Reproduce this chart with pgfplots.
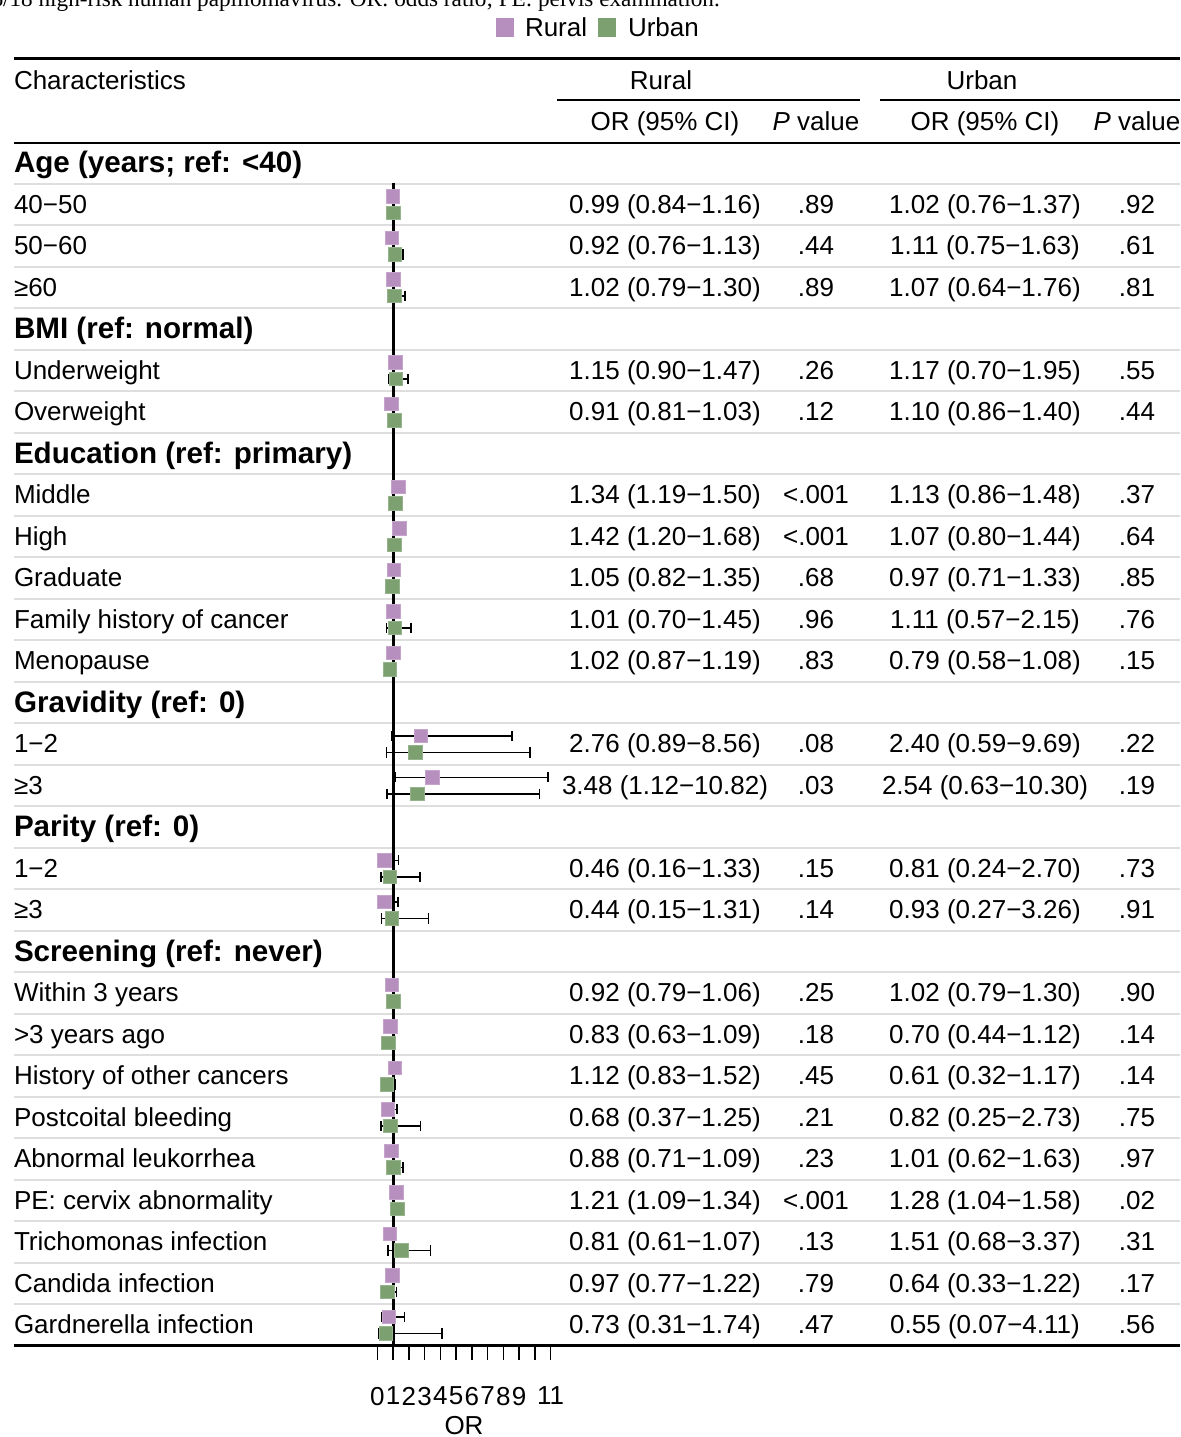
\documentclass[border=0pt]{standalone}
\usepackage{fontspec}
\setmainfont{Liberation Sans}
\newfontfamily\capfont{Liberation Serif}
\usepackage{pgfplots}
\pgfplotsset{compat=1.18}
\usepackage{pgfplotstable}
\definecolor{ruralc}{RGB}{183,143,190}
\definecolor{urbanc}{RGB}{124,160,112}
\definecolor{sepc}{RGB}{222,222,222}
\newcommand\fs{\fontsize{13}{15.6}\selectfont}
\newcommand\fb{\fontsize{14.8}{17.8}\selectfont\bfseries}

\pgfplotstableread{
r or lo hi
1 0.99 0.84 1.16
2 0.92 0.76 1.13
3 1.02 0.79 1.30
5 1.15 0.90 1.47
6 0.91 0.81 1.03
8 1.34 1.19 1.50
9 1.42 1.20 1.68
10 1.05 0.82 1.35
11 1.01 0.70 1.45
12 1.02 0.87 1.19
14 2.76 0.89 8.56
15 3.48 1.12 10.82
17 0.46 0.16 1.33
18 0.44 0.15 1.31
20 0.92 0.79 1.06
21 0.83 0.63 1.09
22 1.12 0.83 1.52
23 0.68 0.37 1.25
24 0.88 0.71 1.09
25 1.21 1.09 1.34
26 0.81 0.61 1.07
27 0.97 0.77 1.22
28 0.73 0.31 1.74
}\rural

\pgfplotstableread{
r or lo hi
1 1.02 0.76 1.37
2 1.11 0.75 1.63
3 1.07 0.64 1.76
5 1.17 0.70 1.95
6 1.10 0.86 1.40
8 1.13 0.86 1.48
9 1.07 0.80 1.44
10 0.97 0.71 1.33
11 1.11 0.57 2.15
12 0.79 0.58 1.08
14 2.40 0.59 9.69
15 2.54 0.63 10.30
17 0.81 0.24 2.70
18 0.93 0.27 3.26
20 1.02 0.79 1.30
21 0.70 0.44 1.12
22 0.61 0.32 1.17
23 0.82 0.25 2.73
24 1.01 0.62 1.63
25 1.28 1.04 1.58
26 1.51 0.68 3.37
27 0.64 0.33 1.22
28 0.55 0.07 4.11
}\urban

\begin{document}
\begin{tikzpicture}[x=0.5pt, y=-0.5pt, every node/.style={inner sep=0pt, outer sep=0pt}]
\useasboundingbox (0,0) rectangle (1180,1437);

% caption fragment
\node[anchor=base west] at (-20,6.5) {\capfont\fontsize{11.6}{14}\selectfont 16/18 high-risk human papillomavirus. OR: odds ratio; PE: pelvis examination.};

% legend
\fill[ruralc] (496,18) rectangle (514,37);
\node[anchor=base west] at (525,36) {\fs Rural};
\fill[urbanc] (598,18) rectangle (616,37);
\node[anchor=base west] at (628,36) {\fs Urban};

% row separators
\foreach \ri in {0,...,27} {
  \draw[sepc, line width=1pt] (14,{163+41.5*(\ri+0.5)}) -- (1180,{163+41.5*(\ri+0.5)});
}

% rules
\draw[line width=1.5pt] (14,58) -- (1180,58);
\draw[line width=1.3pt] (14,143) -- (1180,143);
\draw[line width=1pt] (557,100) -- (860,100);
\draw[line width=1pt] (880,100) -- (1180,100);
\draw[line width=1.5pt] (14,1345) -- (1180,1345);

% header
\node[anchor=base west] at (14,89) {\fs Characteristics};
\node[anchor=base] at (661,89) {\fs Rural};
\node[anchor=base] at (982,89) {\fs Urban};
\node[anchor=base] at (665,130) {\fs OR (95\% CI)};
\node[anchor=base] at (816,130) {\fs \textit{P} value};
\node[anchor=base] at (985,130) {\fs OR (95\% CI)};
\node[anchor=base] at (1137,130) {\fs \textit{P} value};

% group headers
\foreach \ri/\t in {0/Age (years; ref: <40), 4/BMI (ref: normal), 7/Education (ref: primary), 13/Gravidity (ref: 0), 16/Parity (ref: 0), 19/Screening (ref: never)} {
  \node[anchor=base west] at (14,{163+41.5*\ri+9.5}) {\fb \t};
}
% row labels
\foreach \ri/\t in {1/40−50, 2/50−60, 3/≥60, 5/Underweight, 6/Overweight, 8/Middle, 9/High, 10/Graduate, 11/Family history of cancer, 12/Menopause, 14/1−2, 15/≥3, 17/1−2, 18/≥3, 20/Within 3 years, 21/>3 years ago, 22/History of other cancers, 23/Postcoital bleeding, 24/Abnormal leukorrhea, 25/PE: cervix abnormality, 26/Trichomonas infection, 27/Candida infection, 28/Gardnerella infection} {
  \node[anchor=base west] at (14,{163+41.5*\ri+8.5}) {\fs \t};
}
% statistics
\foreach \ri/\a/\b/\c/\d in {
1/0.99 (0.84−1.16)/.89/1.02 (0.76−1.37)/.92,
2/0.92 (0.76−1.13)/.44/1.11 (0.75−1.63)/.61,
3/1.02 (0.79−1.30)/.89/1.07 (0.64−1.76)/.81,
5/1.15 (0.90−1.47)/.26/1.17 (0.70−1.95)/.55,
6/0.91 (0.81−1.03)/.12/1.10 (0.86−1.40)/.44,
8/1.34 (1.19−1.50)/<.001/1.13 (0.86−1.48)/.37,
9/1.42 (1.20−1.68)/<.001/1.07 (0.80−1.44)/.64,
10/1.05 (0.82−1.35)/.68/0.97 (0.71−1.33)/.85,
11/1.01 (0.70−1.45)/.96/1.11 (0.57−2.15)/.76,
12/1.02 (0.87−1.19)/.83/0.79 (0.58−1.08)/.15,
14/2.76 (0.89−8.56)/.08/2.40 (0.59−9.69)/.22,
15/3.48 (1.12−10.82)/.03/2.54 (0.63−10.30)/.19,
17/0.46 (0.16−1.33)/.15/0.81 (0.24−2.70)/.73,
18/0.44 (0.15−1.31)/.14/0.93 (0.27−3.26)/.91,
20/0.92 (0.79−1.06)/.25/1.02 (0.79−1.30)/.90,
21/0.83 (0.63−1.09)/.18/0.70 (0.44−1.12)/.14,
22/1.12 (0.83−1.52)/.45/0.61 (0.32−1.17)/.14,
23/0.68 (0.37−1.25)/.21/0.82 (0.25−2.73)/.75,
24/0.88 (0.71−1.09)/.23/1.01 (0.62−1.63)/.97,
25/1.21 (1.09−1.34)/<.001/1.28 (1.04−1.58)/.02,
26/0.81 (0.61−1.07)/.13/1.51 (0.68−3.37)/.31,
27/0.97 (0.77−1.22)/.79/0.64 (0.33−1.22)/.17,
28/0.73 (0.31−1.74)/.47/0.55 (0.07−4.11)/.56} {
  \node[anchor=base] at (665,{163+41.5*\ri+8.5}) {\fs \a};
  \node[anchor=base] at (816,{163+41.5*\ri+8.5}) {\fs \b};
  \node[anchor=base] at (985,{163+41.5*\ri+8.5}) {\fs \c};
  \node[anchor=base] at (1137,{163+41.5*\ri+8.5}) {\fs \d};
}

\begin{axis}[
  at={(188.65pt,-672.5pt)}, anchor=south west,
  scale only axis, width=86.7pt, height=581.25pt,
  xmin=0, xmax=11, ymin=-28.48, ymax=-0.47,
  clip=false,
  axis line style={draw=none},
  ytick=\empty,
  xtick={0,1,2,3,4,5,6,7,8,9,10,11},
  xticklabels={0,1,2,3,4,5,6,7,8,9,,11},
  xtick pos=left, tick align=outside,
  major tick length=7.5pt,
  tick style={black, line width=0.7pt},
  /pgf/number format/assume math mode=true,
  tick label style={font=\fs},
  xticklabel style={yshift=-13.5pt},
  xlabel={OR},
  xlabel style={font=\fs, at={(axis description cs:0.5,0)}, anchor=base, yshift=-44.5pt},
]
\addplot[draw=none, mark=none, forget plot,
  error bars/.cd, x dir=both, x explicit,
  error bar style={draw=black, line width=0.75pt},
  error mark options={draw=black, line width=0.75pt, mark size=2.6pt, rotate=90}]
  table[x=or, y expr=-\thisrow{r}+0.2, x error plus expr=\thisrow{hi}-\thisrow{or}, x error minus expr=\thisrow{or}-\thisrow{lo}] {\rural};
\addplot[draw=none, mark=none, forget plot,
  error bars/.cd, x dir=both, x explicit,
  error bar style={draw=black, line width=0.75pt},
  error mark options={draw=black, line width=0.75pt, mark size=2.6pt, rotate=90}]
  table[x=or, y expr=-\thisrow{r}-0.2, x error plus expr=\thisrow{hi}-\thisrow{or}, x error minus expr=\thisrow{or}-\thisrow{lo}] {\urban};
\addplot[black, line width=1.5pt, forget plot] coordinates {(1,-0.47) (1,-28.48)};
\addplot[only marks, mark=square*, mark size=3.4pt, mark options={fill=ruralc, draw=ruralc!80!white, line width=0.4pt}]
  table[x=or, y expr=-\thisrow{r}+0.2] {\rural};
\addplot[only marks, mark=square*, mark size=3.4pt, mark options={fill=urbanc, draw=urbanc!80!white, line width=0.4pt}]
  table[x=or, y expr=-\thisrow{r}-0.2] {\urban};
\end{axis}
\end{tikzpicture}
\end{document}
